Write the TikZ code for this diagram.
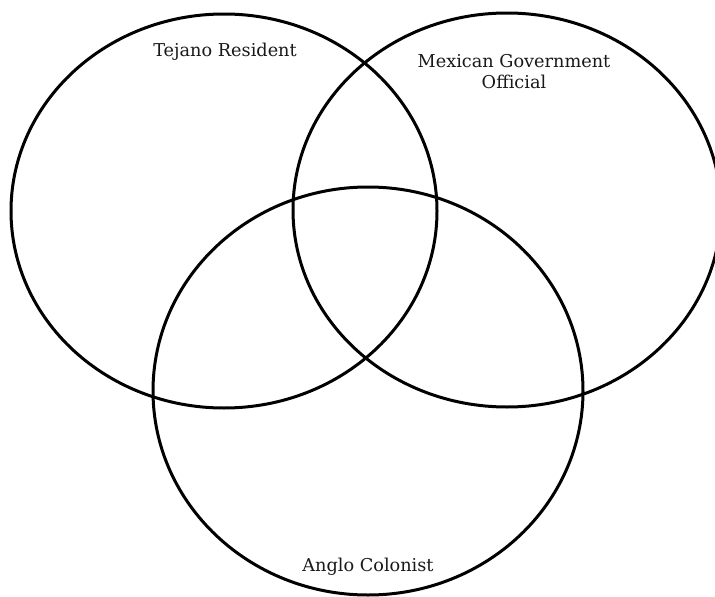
\documentclass[tikz,border=0pt]{standalone}
\usepackage{fontspec}
\setmainfont{DejaVu Serif}
\begin{document}
\begin{tikzpicture}[x=1pt,y=-1pt,
  venn/.style={draw=black,line width=3pt},
  lbl/.style={font=\fontsize{17.7}{21}\selectfont,align=center,inner sep=0pt,text=black!90}]
\useasboundingbox (0,0) rectangle (715,597);
\begin{scope}
\clip (0,0) rectangle (715,597);
\draw[venn] (224,211) ellipse [x radius=213, y radius=197];
\draw[venn] (507,210) ellipse [x radius=214, y radius=197];
\draw[venn] (368,391) ellipse [x radius=215, y radius=204];
\end{scope}
\node[lbl] (tejano) at (225,52) {Tejano Resident};
\node[lbl] (mexican) at (514,72) {Mexican Government\\Official};
\node[lbl] (anglo) at (368,567) {Anglo Colonist};
\end{tikzpicture}
\end{document}
